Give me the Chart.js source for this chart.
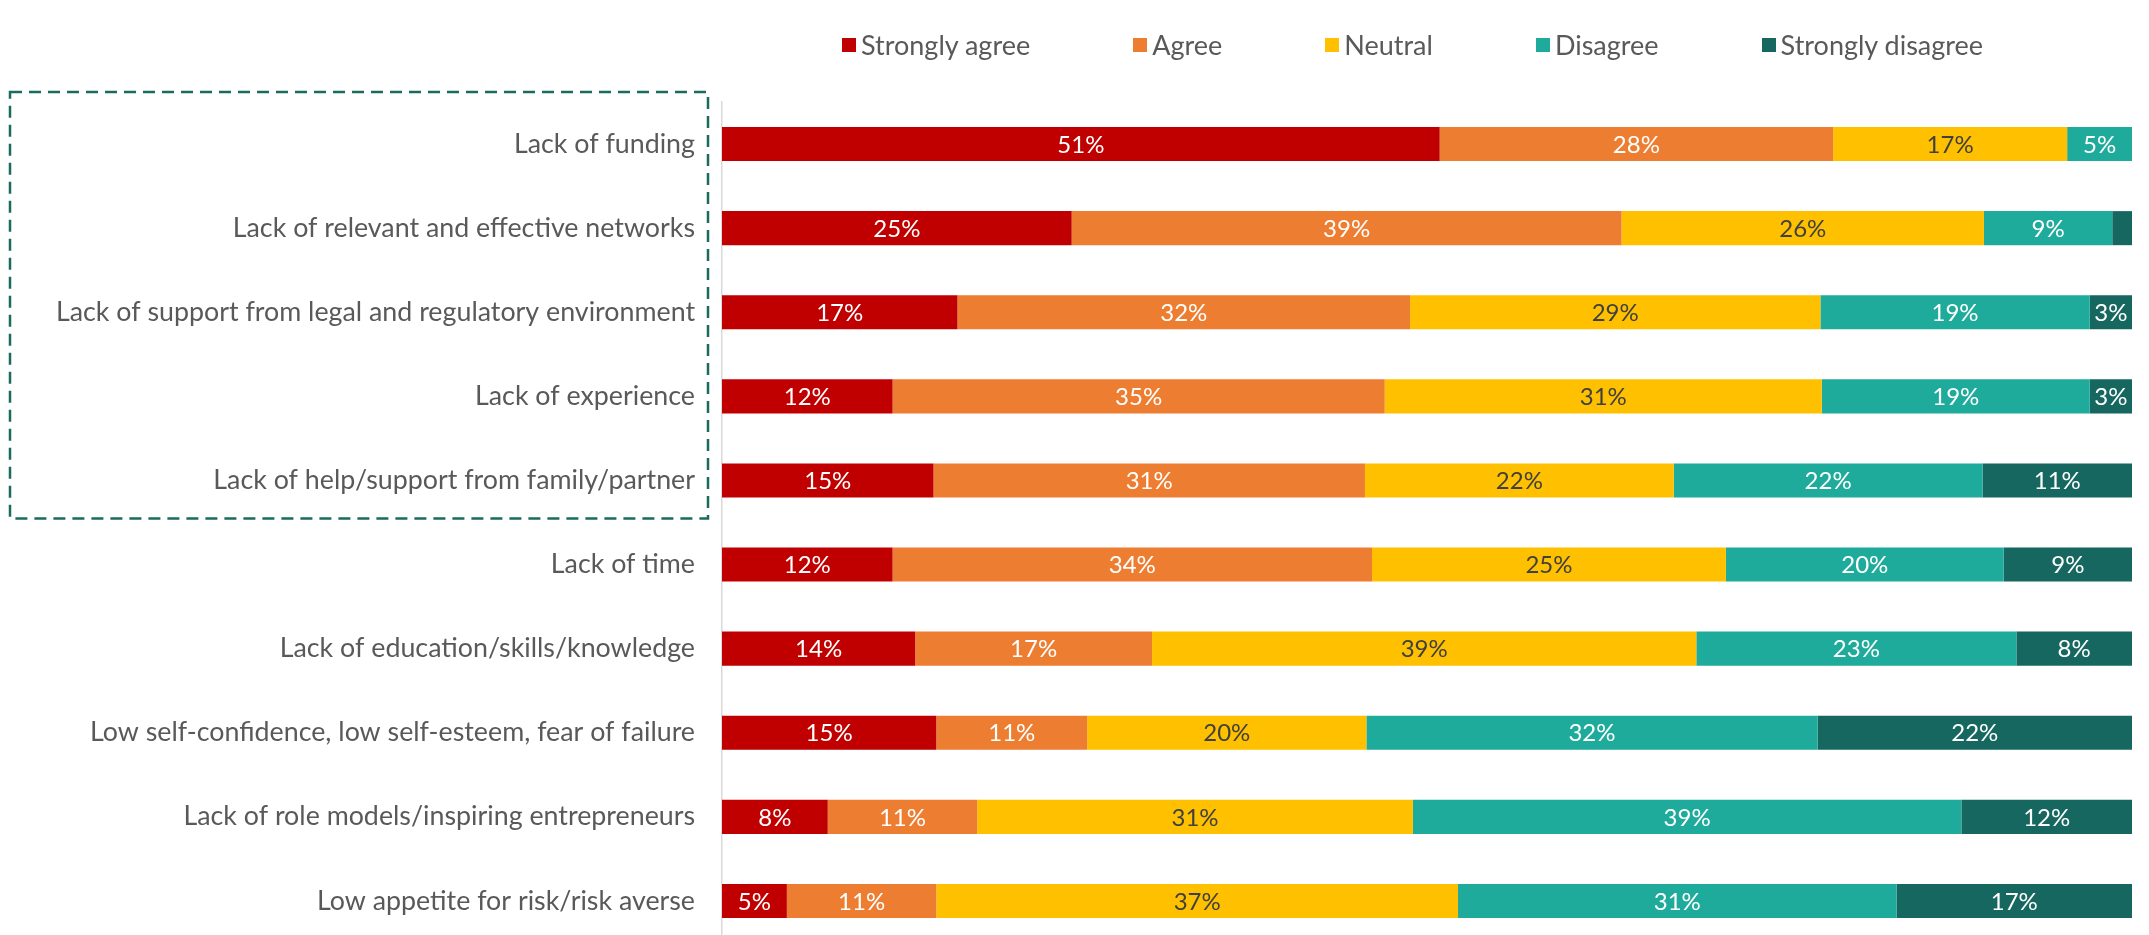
<!DOCTYPE html>
<html>
<head>
<meta charset="utf-8">
<script src="https://cdn.jsdelivr.net/npm/chart.js@4/dist/chart.umd.min.js"></script>
<style>
  html, body { margin: 0; padding: 0; background: #ffffff; overflow: hidden; }
  #wrap { position: relative; width: 2149px; height: 935px; overflow: hidden; }
  #chart { position: absolute; left: 0; top: 0; }
  #legend {
    position: absolute; left: 842px; top: 28px; display: flex; align-items: center;
    font-family: Lato, "Open Sans", sans-serif; font-size: 27px; color: #595959; white-space: nowrap;
  }
  #legend .item { display: flex; align-items: center; margin-right: 103px; }
  #legend .item:last-child { margin-right: 0; }
  #legend .box { width: 14px; height: 14px; margin-right: 5px; }
</style>
</head>
<body>
<div id="wrap">
  <canvas id="chart" width="2149" height="943"></canvas>
  <div id="legend"></div>
</div>
<script>
// Barriers and level of agreement (share of respondents, %)
const categories = [
  "Lack of funding",
  "Lack of relevant and effective networks",
  "Lack of support from legal and regulatory environment",
  "Lack of experience",
  "Lack of help/support from family/partner",
  "Lack of time",
  "Lack of education/skills/knowledge",
  "Low self-confidence, low self-esteem, fear of failure",
  "Lack of role models/inspiring entrepreneurs",
  "Low appetite for risk/risk averse"
];
const seriesNames = ["Strongly agree", "Agree", "Neutral", "Disagree", "Strongly disagree"];
const stronglyAgree    = [50.9, 24.8, 16.7, 12.1, 15.0, 12.1, 13.7, 15.2,  7.5,  4.6];
const agree            = [27.9, 39.0, 32.1, 34.9, 30.6, 34.0, 16.8, 10.7, 10.6, 10.6];
const neutral          = [16.6, 25.7, 29.1, 31.0, 21.9, 25.1, 38.6, 19.8, 30.9, 37.0];
const disagree         = [ 4.6,  9.1, 19.1, 19.0, 21.9, 19.7, 22.7, 32.0, 38.9, 31.1];
const stronglyDisagree = [ 0.0,  1.4,  3.0,  3.0, 10.6,  9.1,  8.2, 22.3, 12.1, 16.7];

const seriesValues = [stronglyAgree, agree, neutral, disagree, stronglyDisagree];
const seriesColors = ["#C00000", "#ED7D31", "#FFC000", "#1FAB9B", "#15675F"];
const labelColors  = ["#ffffff", "#ffffff", "#404040", "#ffffff", "#ffffff"];
const FONT = "Lato, 'Open Sans', sans-serif";

// Percentage labels centred inside each segment
const segmentLabels = {
  id: "segmentLabels",
  afterDatasetsDraw(chart) {
    const ctx = chart.ctx;
    ctx.save();
    ctx.font = "24px " + FONT;
    ctx.textAlign = "center";
    ctx.textBaseline = "middle";
    chart.data.datasets.forEach((ds, i) => {
      const meta = chart.getDatasetMeta(i);
      meta.data.forEach((bar, j) => {
        const v = ds.data[j];
        if (v < 2) return;
        ctx.fillStyle = labelColors[i];
        ctx.fillText(Math.round(v) + "%", (bar.x + bar.base) / 2, bar.y + 1);
      });
    });
    ctx.restore();
  }
};

// Dashed frame around the first five barriers
const groupFrame = {
  id: "groupFrame",
  afterDraw(chart) {
    const y = chart.scales.y;
    const top = y.getPixelForValue(0) - 52;
    const bottom = y.getPixelForValue(4) + 38;
    const ctx = chart.ctx;
    ctx.save();
    ctx.strokeStyle = "#1A6B5E";
    ctx.lineWidth = 2.5;
    ctx.setLineDash([12, 7]);
    ctx.strokeRect(10, top, 698, bottom - top);
    ctx.restore();
  }
};

const chart = new Chart(document.getElementById("chart"), {
  type: "bar",
  data: {
    labels: categories,
    datasets: seriesValues.map((vals, i) => ({
      label: seriesNames[i],
      data: vals,
      backgroundColor: seriesColors[i],
      borderWidth: 0,
      categoryPercentage: 1,
      barPercentage: 0.405
    }))
  },
  options: {
    indexAxis: "y",
    responsive: false,
    animation: false,
    layout: { padding: { top: 102, right: 17, bottom: 0, left: 0 } },
    plugins: { legend: { display: false }, tooltip: { enabled: false } },
    scales: {
      x: { stacked: true, min: 0, max: 100, display: false },
      y: {
        stacked: true,
        grid: { display: false, drawTicks: false },
        border: { display: true, color: "#D9D9D9", width: 1.5 },
        ticks: { color: "#595959", font: { family: FONT, size: 26.8 }, padding: 27 },
        afterFit(scale) {
          scale.width = 722;
          scale.paddingTop = 0;
          scale.paddingBottom = 0;
        }
      }
    }
  },
  plugins: [segmentLabels, groupFrame]
});

// Legend built from the chart's datasets
const legendEl = document.getElementById("legend");
chart.data.datasets.forEach(ds => {
  const item = document.createElement("div");
  item.className = "item";
  const box = document.createElement("span");
  box.className = "box";
  box.style.background = ds.backgroundColor;
  const txt = document.createElement("span");
  txt.textContent = ds.label;
  item.appendChild(box);
  item.appendChild(txt);
  legendEl.appendChild(item);
});
</script>
</body>
</html>
